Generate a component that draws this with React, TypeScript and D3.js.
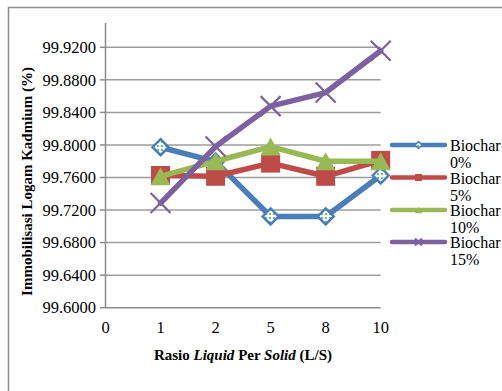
import React from "react";
import * as d3 from "d3";

const categories = ["0", "1", "2", "5", "8", "10"];
const dataCategories = ["1", "2", "5", "8", "10"];
const seriesNames = ["Biochar 0%", "Biochar 5%", "Biochar 10%", "Biochar 15%"];
const biochar0 = [99.7972, 99.7795, 99.7121, 99.7121, 99.7625];
const biochar5 = [99.7625, 99.7615, 99.7777, 99.7615, 99.7810];
const biochar10 = [99.7615, 99.7800, 99.7980, 99.7800, 99.7800];
const biochar15 = [99.7286, 99.7980, 99.8477, 99.8644, 99.9158];
const yTicks = [99.6, 99.64, 99.68, 99.72, 99.76, 99.8, 99.84, 99.88, 99.92];

const colors = ["#4a7ebb", "#be4b48", "#98b954", "#7d60a0"];
const markers = ["diamond", "square", "triangle", "x"];
const FONT = '"Liberation Serif", "Times New Roman", Times, serif';

function Marker({ type, x, y, s, color }: { type: string; x: number; y: number; s: number; color: string }) {
  if (type === "diamond") {
    const h = s / 2;
    return (
      <path
        d={`M${x},${y - h}L${x + h},${y}L${x},${y + h}L${x - h},${y}Z`}
        fill="url(#dots)"
        stroke={color}
        strokeWidth={s > 10 ? 2.5 : 1.5}
      />
    );
  }
  if (type === "square") {
    return <rect x={x - s / 2} y={y - s / 2} width={s} height={s} fill={color} />;
  }
  if (type === "triangle") {
    const h = s * 0.9;
    return (
      <path d={`M${x},${y - h / 2}L${x + s / 2},${y + h / 2}L${x - s / 2},${y + h / 2}Z`} fill={color} />
    );
  }
  const h = s / 2;
  return (
    <path
      d={`M${x - h},${y - h}L${x + h},${y + h}M${x - h},${y + h}L${x + h},${y - h}`}
      stroke={color}
      strokeWidth={s > 10 ? 2.2 : 2}
      fill="none"
    />
  );
}

export default function App() {
  const W = 502;
  const H = 391;
  const x = d3.scalePoint<string>().domain(categories).range([105.5, 380.7]);
  const y = d3.scaleLinear().domain([99.6, 99.95]).range([307.7, 22.9]);
  const allSeries = [biochar0, biochar5, biochar10, biochar15];
  const line = d3
    .line<number>()
    .x((_, i) => x(dataCategories[i]) as number)
    .y((d) => y(d));
  const fmt = d3.format(".4f");
  const markerSizes = [16, 19, 20, 20];

  const legendY = [145, 177.5, 210, 242];

  return (
    <svg
      width={W}
      height={H}
      style={{ position: "absolute", left: 0, top: 0, background: "#fff", fontFamily: FONT }}
    >
      <defs>
        <pattern id="dots" width="4" height="4" patternUnits="userSpaceOnUse">
          <rect width="4" height="4" fill="#ffffff" />
          <circle cx="2" cy="2" r="0.9" fill="#22a84a" />
        </pattern>
      </defs>
      {/* chart frame */}
      <rect x={8.5} y={7.5} width={W + 20} height={H + 20} fill="#fff" stroke="#8c8c8c" strokeWidth={1.5} />

      {/* gridlines */}
      {yTicks.slice(1).map((t) => (
        <line key={t} x1={105.5} x2={380.7} y1={y(t)} y2={y(t)} stroke="#9c9c9c" strokeWidth={1.5} />
      ))}
      {/* y axis */}
      <line x1={105.5} x2={105.5} y1={y(99.95)} y2={y(99.6)} stroke="#8c8c8c" strokeWidth={1.5} />
      {yTicks.map((t) => (
        <g key={"yt" + t}>
          <line x1={100} x2={105.5} y1={y(t)} y2={y(t)} stroke="#8c8c8c" strokeWidth={1.5} />
          <text x={96} y={y(t)} dy="0.35em" textAnchor="end" fontSize={16.5} fill="#000">
            {fmt(t)}
          </text>
        </g>
      ))}
      {/* x axis */}
      <line x1={105.5} x2={380.7} y1={y(99.6)} y2={y(99.6)} stroke="#8c8c8c" strokeWidth={1.5} />
      {categories.map((c) => (
        <text key={"xt" + c} x={x(c)} y={333} textAnchor="middle" fontSize={16.5} fill="#000">
          {c}
        </text>
      ))}

      {/* axis titles */}
      <text x={243} y={360} textAnchor="middle" fontSize={15} fontWeight="bold" fill="#000">
        Rasio <tspan fontStyle="italic">Liquid</tspan> Per <tspan fontStyle="italic">Solid</tspan> (L/S)
      </text>
      <text
        transform={`translate(32,181.5) rotate(-90)`}
        textAnchor="middle"
        fontSize={15}
        fontWeight="bold"
        fill="#000"
      >
        Immobilisasi Logam Kadmium (%)
      </text>

      {/* series */}
      {allSeries.map((s, si) => (
        <g key={"s" + si}>
          <path d={line(s) || ""} fill="none" stroke={colors[si]} strokeWidth={5.5} strokeLinejoin="round" strokeLinecap="round" />
          {s.map((v, i) => (
            <Marker
              key={i}
              type={markers[si]}
              x={x(dataCategories[i]) as number}
              y={y(v)}
              s={markerSizes[si]}
              color={colors[si]}
            />
          ))}
        </g>
      ))}

      {/* legend */}
      {seriesNames.map((n, i) => {
        const [w1, w2] = n.split(" ");
        const ly = legendY[i];
        return (
          <g key={"lg" + i}>
            <line x1={392} x2={445} y1={ly} y2={ly} stroke={colors[i]} strokeWidth={4.5} strokeLinecap="round" />
            <Marker type={markers[i]} x={418.5} y={ly} s={7} color={colors[i]} />
            <text x={450} y={ly + 6} fontSize={16} fill="#000">
              {w1}
            </text>
            <text x={450} y={ly + 23} fontSize={16} fill="#000">
              {w2}
            </text>
          </g>
        );
      })}
    </svg>
  );
}
